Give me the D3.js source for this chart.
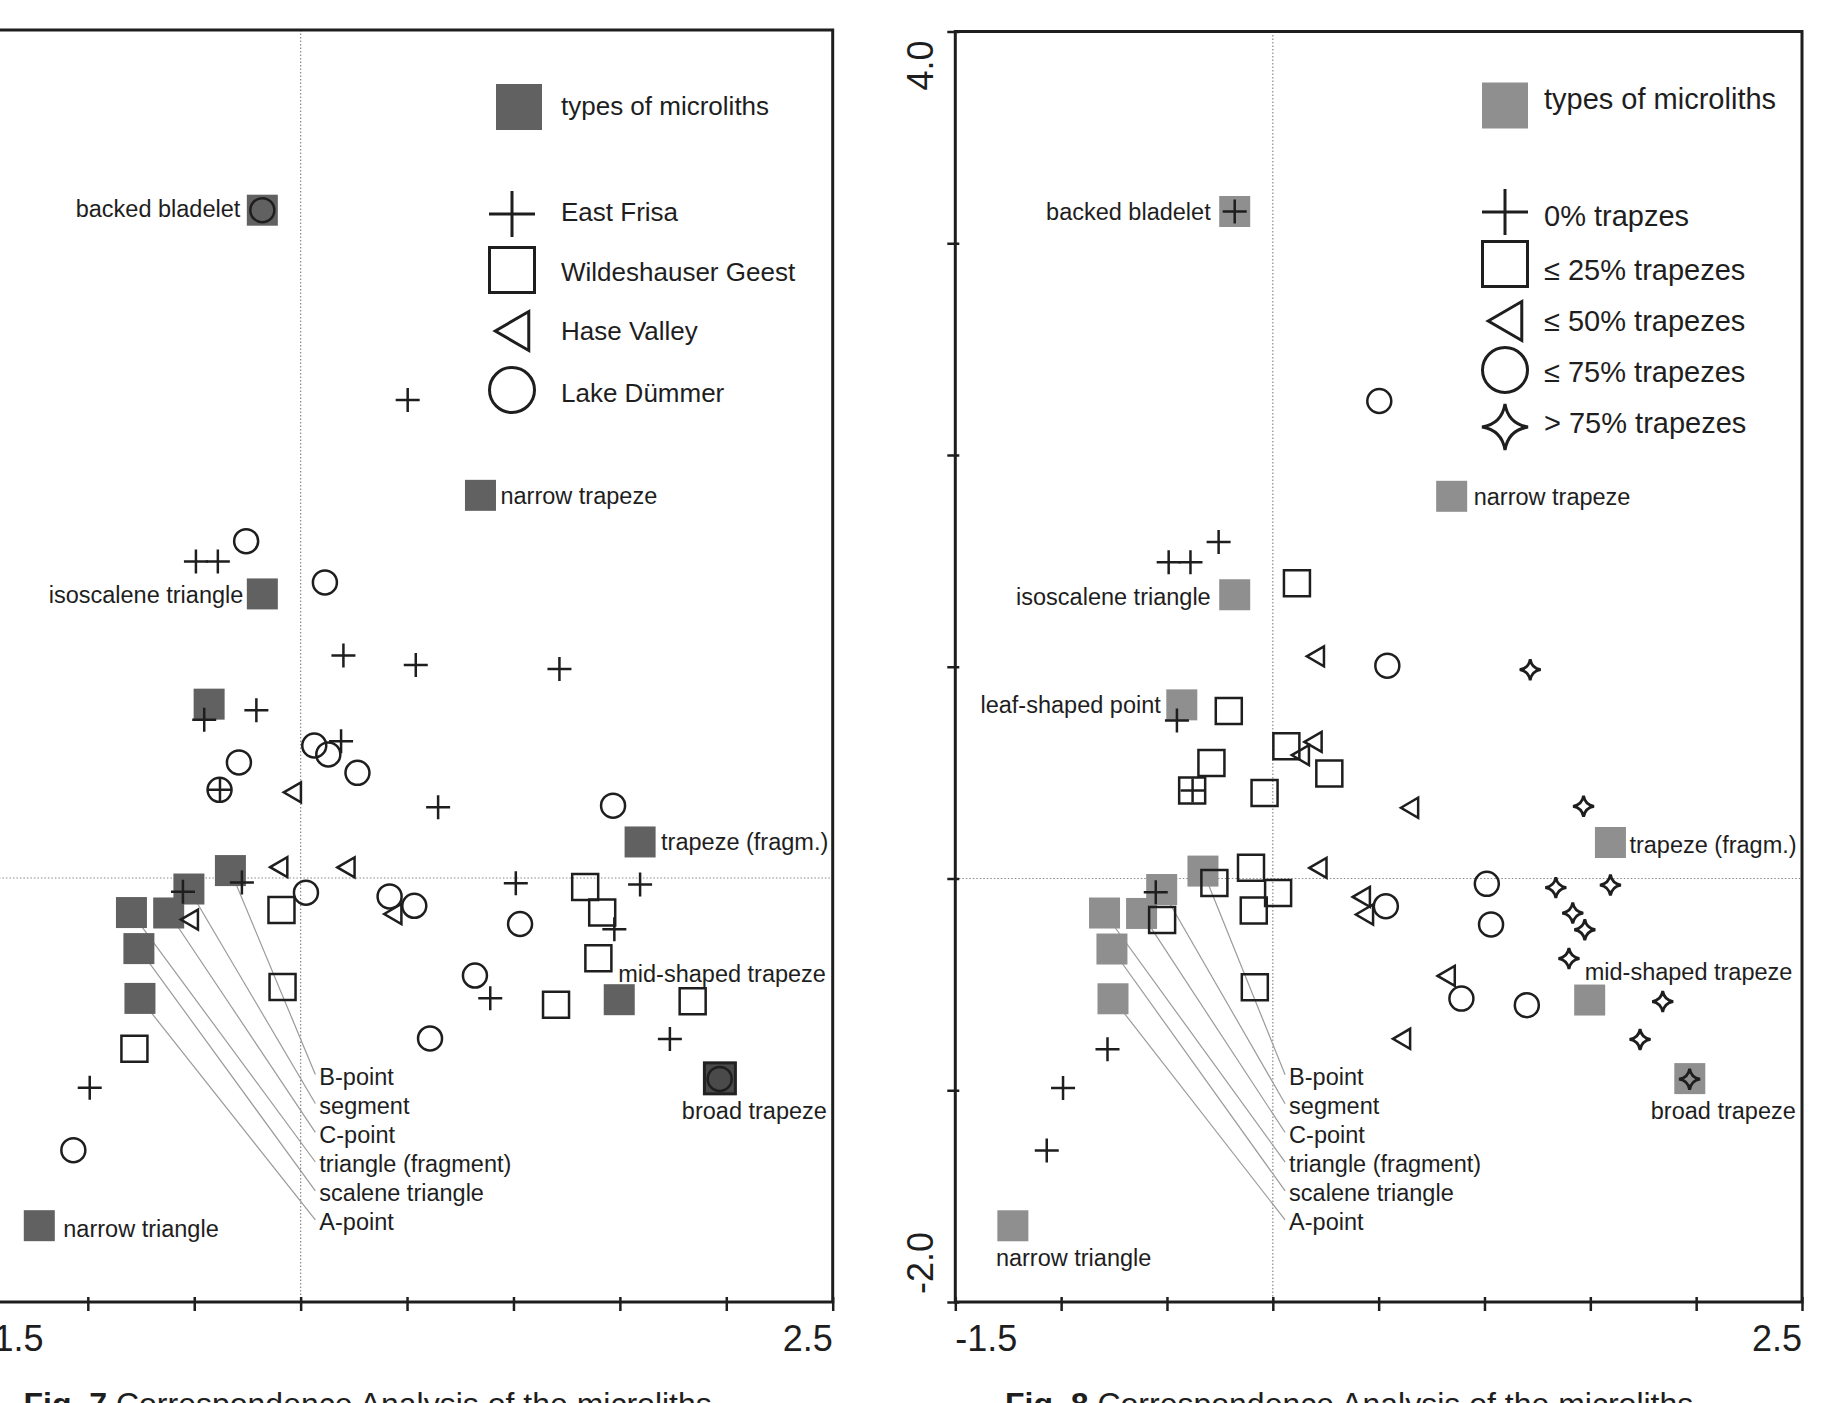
<!DOCTYPE html>
<html><head><meta charset="utf-8">
<script src="https://cdn.jsdelivr.net/npm/d3@7"></script>
<style>
body{margin:0;background:#fff}
svg{display:block}
text{font-family:"Liberation Sans",Arial,Helvetica,sans-serif;fill:#1e1e1e}
</style>
</head><body>
<svg id="chart" width="1842" height="1403"></svg>
<script>
// ---------------- DATA ----------------
const typeNames = ["backed bladelet","narrow trapeze","isoscalene triangle","leaf-shaped point","trapeze (fragm.)",
  "B-point","segment","C-point","triangle (fragment)","scalene triangle","A-point",
  "mid-shaped trapeze","broad trapeze","narrow triangle"];
const typeX = [-0.18, 0.845, -0.18, -0.43, 1.595, -0.33, -0.525, -0.62, -0.795, -0.76, -0.755, 1.497, 1.97, -1.228];
const typeY = [3.15, 1.805, 1.34, 0.82, 0.17, 0.035, -0.052, -0.165, -0.163, -0.333, -0.568, -0.574, -0.945, -1.64];

// leader-labelled types and the y (axis units) of their label rows
const leaderNames = ["B-point","segment","C-point","triangle (fragment)","scalene triangle","A-point"];
const leaderLabelY = [-0.936, -1.073, -1.209, -1.349, -1.485, -1.622];

// sites: coordinates, region (Fig. 7) and trapeze share class (Fig. 8)
const siteX = [0.503,-0.492,-0.389,0.201,0.541,1.216,-0.208,-0.453,0.19,-0.379,0.646,-0.276,-0.553,1.011,1.595,1.474,0.891,1.735,-0.991,
  -0.09,-0.085,-0.781,1.337,1.417,1.399,1.2,1.842,
  -0.039,-0.103,0.213,-0.523,0.433,
  -0.256,0.114,-0.29,0.064,0.13,0.267,-0.381,1.468,0.025,0.418,0.534,1.031,0.819,0.608,-1.068,-0.18,1.969];
const siteY = [2.255,1.493,1.493,1.049,1.005,0.986,0.791,0.746,0.645,0.416,0.334,-0.021,-0.065,-0.025,-0.031,-0.242,-0.567,-0.76,-0.989,
  -0.151,-0.514,-0.806,-0.043,-0.163,-0.378,-0.598,-0.581,
  0.404,0.051,0.05,-0.196,-0.17,
  1.589,1.394,0.545,0.625,0.583,0.496,0.416,0.341,-0.069,-0.087,-0.131,-0.217,-0.46,-0.757,-1.284,3.15,-0.948];
const siteRegion = [0,0,0,0,0,0,0,0,0,0,0,0,0,0,0,0,0,0,0,
  1,1,1,1,1,1,1,1,
  2,2,2,2,2,
  3,3,3,3,3,3,3,3,3,3,3,3,3,3,3,3,3];
const siteTrapezeClass = [3,0,0,2,3,4,1,0,2,0,2,1,0,3,4,4,3,4,0,
  1,1,0,4,4,4,3,4,
  1,1,2,1,2,
  0,1,1,1,2,1,1,4,1,2,3,3,2,2,0,0,4];

const regionNames = ["East Frisa","Wildeshauser Geest","Hase Valley","Lake Dümmer"];
const trapezeClassNames = ["0% trapzes","\u2264 25% trapezes","\u2264 50% trapezes","\u2264 75% trapezes","> 75% trapezes"];
const legendTitle = "types of microliths";

const xDomain = [-1.5, 2.5];
const yDomain = [-2.0, 4.0];
const xTickValues = [-1.5,-1.0,-0.5,0,0.5,1.0,1.5,2.0,2.5];
const yTickValues = [-2,-1,0,1,2,3,4];
const xTickLabels = ["-1.5","2.5"];
const yTickLabels = ["-2.0","4.0"];
const captionLabels = ["Fig. 7", "Fig. 8"];
const captionText = " Correspondence Analysis of the microliths";

// ---------------- LAYOUT ----------------
const INK = "#1e1e1e";
const panels = [
  {
    x0: -18.6, x1: 832.7, y0: 1302, y1: 30,
    squareFill: "#616161", showYAxis: false,
    symbols: ["plus","square","triangle","circle"],
    siteSymbol: i => siteRegion[i],
    legendNames: regionNames, legendFont: 26,
    legendSymX: 512, legendTitleX: 519, legendTextX: 561,
    legendTitleY: 107, legendTitleTextY: 106,
    legendY: [214, 270, 331, 390], legendTextY: [212, 272, 331, 393],
    caption: 0, captionX: 23.5,
    leaderDx: 18.7,
    labels: {
      "backed bladelet": ["end", -22, -1],
      "narrow trapeze": ["start", 20, 0],
      "isoscalene triangle": ["end", -19, 1],
      "trapeze (fragm.)": ["start", 21, 0],
      "mid-shaped trapeze": ["start", -1, -26],
      "broad trapeze": ["end", 107, 32],
      "narrow triangle": ["start", 24, 3]
    },
    outlined: ["broad trapeze"]
  },
  {
    x0: 955.3, x1: 1802, y0: 1302, y1: 31.5,
    squareFill: "#8f8f8f", showYAxis: true,
    symbols: ["plus","square","triangle","circle","star"],
    siteSymbol: i => siteTrapezeClass[i],
    legendNames: trapezeClassNames, legendFont: 29,
    legendSymX: 1505, legendTitleX: 1505, legendTextX: 1544,
    legendTitleY: 105.5, legendTitleTextY: 99,
    legendY: [212, 264, 321, 370, 427], legendTextY: [216, 270, 321, 372, 423],
    caption: 1, captionX: 1005,
    leaderDx: 16.3,
    labels: {
      "backed bladelet": ["end", -24, 0],
      "narrow trapeze": ["start", 22, 0],
      "isoscalene triangle": ["end", -24, 2],
      "leaf-shaped point": ["end", -21, 0],
      "trapeze (fragm.)": ["start", 19, 2],
      "mid-shaped trapeze": ["start", -5, -28],
      "broad trapeze": ["end", 106, 32],
      "narrow triangle": ["start", -17, 32]
    },
    outlined: []
  }
];

const smallSize = {plus: 24, square: 26, triangle: 20, circle: 24, star: 21};
const legendSize = {plus: 46, square: 45, triangle: 39, circle: 45, star: 46};

function symbolPath(kind, s) {
  const h = s / 2;
  if (kind === "plus") return `M${-h},0H${h}M0,${-h}V${h}`;
  if (kind === "square") return `M${-h},${-h}H${h}V${h}H${-h}Z`;
  if (kind === "triangle") { const w = s * 0.86; return `M${-w/2},0L${w/2},${-h}L${w/2},${h}Z`; }
  if (kind === "circle") return `M${h},0A${h},${h} 0 1,1 ${-h},0A${h},${h} 0 1,1 ${h},0Z`;
  if (kind === "star") { const k = h * 0.14; return `M0,${-h}Q${k},${-k} ${h},0Q${k},${k} 0,${h}Q${-k},${k} ${-h},0Q${-k},${-k} 0,${-h}Z`; }
}

const svg = d3.select("#chart");
svg.append("rect").attr("width", 1842).attr("height", 1403).attr("fill", "#fff");

panels.forEach(p => {
  const x = d3.scaleLinear().domain(xDomain).range([p.x0, p.x1]);
  const y = d3.scaleLinear().domain(yDomain).range([p.y0, p.y1]);
  const g = svg.append("g");

  // dotted zero lines
  g.append("line").attr("x1", x(0)).attr("x2", x(0)).attr("y1", y(4)).attr("y2", y(-2))
    .attr("stroke", "#8a8a8a").attr("stroke-width", 1.2).attr("stroke-dasharray", "1.5,2");
  g.append("line").attr("x1", x(-1.5)).attr("x2", x(2.5)).attr("y1", y(0)).attr("y2", y(0))
    .attr("stroke", "#8a8a8a").attr("stroke-width", 1.2).attr("stroke-dasharray", "1.5,2");

  // frame
  g.append("rect").attr("x", x(-1.5)).attr("y", y(4)).attr("width", x(2.5) - x(-1.5)).attr("height", y(-2) - y(4))
    .attr("fill", "none").attr("stroke", INK).attr("stroke-width", 3);

  // x axis ticks via d3 axis
  const xAxis = d3.axisBottom(x).tickValues(xTickValues).tickSizeInner(9).tickSizeOuter(0).tickFormat("");
  const ax = g.append("g").attr("transform", `translate(0,${y(-2)})`).call(xAxis);
  ax.select(".domain").remove();
  ax.selectAll(".tick line").attr("stroke", INK).attr("stroke-width", 2.5).attr("y1", -5);
  g.append("text").attr("x", x(-1.5)).attr("y", y(-2) + 49).attr("font-size", 36).text(xTickLabels[0]);
  g.append("text").attr("x", x(2.5)).attr("y", y(-2) + 49).attr("font-size", 36).attr("text-anchor", "end").text(xTickLabels[1]);

  if (p.showYAxis) {
    const yAxis = d3.axisLeft(y).tickValues(yTickValues).tickSizeInner(8).tickSizeOuter(0).tickFormat("");
    const ay = g.append("g").attr("transform", `translate(${x(-1.5)},0)`).call(yAxis);
    ay.select(".domain").remove();
    ay.selectAll(".tick line").attr("stroke", INK).attr("stroke-width", 2.5).attr("x1", 4);
    g.append("text").attr("transform", `translate(${x(-1.5) - 22},${y(-2) - 8}) rotate(-90)`)
      .attr("font-size", 36).attr("text-anchor", "start").text(yTickLabels[0]);
    g.append("text").attr("transform", `translate(${x(-1.5) - 22},${y(4) + 9}) rotate(-90)`)
      .attr("font-size", 36).attr("text-anchor", "end").text(yTickLabels[1]);
  }

  // leader lines
  leaderNames.forEach((nm, j) => {
    const t = typeNames.indexOf(nm);
    const lx = x(0) + p.leaderDx;
    const ly = y(leaderLabelY[j]);
    g.append("line").attr("x1", x(typeX[t])).attr("y1", y(typeY[t]))
      .attr("x2", lx - 4).attr("y2", ly - 2)
      .attr("stroke", "#9a9a9a").attr("stroke-width", 1.2);
    g.append("text").attr("x", lx).attr("y", ly).attr("dy", "0.35em").attr("font-size", 23.5).text(nm);
  });

  // type squares
  typeNames.forEach((nm, t) => {
    const sq = g.append("rect").attr("x", x(typeX[t]) - 15.5).attr("y", y(typeY[t]) - 15.5)
      .attr("width", 31).attr("height", 31).attr("fill", p.squareFill);
    if (p.outlined.includes(nm)) sq.attr("stroke", "#222").attr("stroke-width", 3).attr("fill", "#4a4a4a");
    const lab = p.labels[nm];
    if (lab) {
      g.append("text").attr("x", x(typeX[t]) + lab[1]).attr("y", y(typeY[t]) + lab[2])
        .attr("dy", "0.35em").attr("text-anchor", lab[0]).attr("font-size", 23.5).text(nm);
    }
  });

  // sites
  siteX.forEach((sx, i) => {
    const kind = p.symbols[p.siteSymbol(i)];
    g.append("path").attr("d", symbolPath(kind, smallSize[kind]))
      .attr("transform", `translate(${x(sx)},${y(siteY[i])})`)
      .attr("fill", "none").attr("stroke", INK)
      .attr("stroke-width", kind === "star" ? 2.8 : 2.5).attr("stroke-linejoin", "miter");
  });

  // legend
  g.append("rect").attr("x", p.legendTitleX - 23).attr("y", p.legendTitleY - 23)
    .attr("width", 46).attr("height", 46).attr("fill", p.squareFill);
  g.append("text").attr("x", p.legendTextX).attr("y", p.legendTitleTextY).attr("dy", "0.35em")
    .attr("font-size", p.legendFont).text(legendTitle);
  p.legendNames.forEach((nm, k) => {
    const kind = p.symbols[k];
    g.append("path").attr("d", symbolPath(kind, legendSize[kind]))
      .attr("transform", `translate(${p.legendSymX},${p.legendY[k]})`)
      .attr("fill", "none").attr("stroke", INK).attr("stroke-width", 3);
    g.append("text").attr("x", p.legendTextX).attr("y", p.legendTextY[k]).attr("dy", "0.35em")
      .attr("font-size", p.legendFont).text(nm);
  });

  // caption (cut by page bottom)
  const cap = g.append("text").attr("x", p.captionX).attr("y", 1415).attr("font-size", 32);
  cap.append("tspan").attr("font-weight", "bold").text(captionLabels[p.caption]);
  cap.append("tspan").text(captionText);
});
</script>
</body></html>
